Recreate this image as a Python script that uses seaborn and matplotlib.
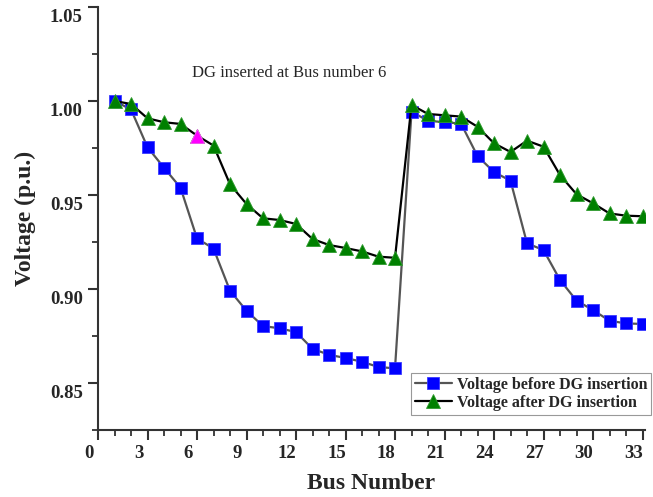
import matplotlib
matplotlib.use("Agg")
import matplotlib.pyplot as plt
import numpy as np
import pandas as pd
import seaborn as sns
from matplotlib.ticker import MultipleLocator
from matplotlib.transforms import ScaledTranslation

# Bus voltage profile of the 33-bus feeder
bus = list(range(1, 34))
v_before = [1.000, 0.9955, 0.9754, 0.9645, 0.9539, 0.9269, 0.9215, 0.8991, 0.8884,
            0.8803, 0.8791, 0.8771, 0.8682, 0.8650, 0.8633, 0.8613, 0.8585, 0.8578,
            0.9943, 0.9895, 0.9887, 0.9880, 0.9707, 0.9622, 0.9576, 0.9243, 0.9207,
            0.9048, 0.8938, 0.8888, 0.8831, 0.8817, 0.8814]
v_after = [1.000, 0.9984, 0.9908, 0.9887, 0.9878, 0.9816, 0.9763, 0.9557, 0.9452,
           0.9376, 0.9367, 0.9346, 0.9266, 0.9234, 0.9218, 0.9200, 0.9172, 0.9166,
           0.9979, 0.9931, 0.9924, 0.9917, 0.9863, 0.9775, 0.9729, 0.9789, 0.9757,
           0.9606, 0.9504, 0.9456, 0.9402, 0.9390, 0.9387]
dg_bus = 6
x_ticks = list(range(0, 34, 3))
y_ticks = [0.85, 0.90, 0.95, 1.00, 1.05]

sns.set_style("ticks")
plt.rcParams["font.family"] = ["Liberation Serif", "DejaVu Serif"]

df = pd.DataFrame({"Bus": bus, "before": v_before, "after": v_after})

fig = plt.figure(figsize=(6.53, 4.97), dpi=100)
ax = fig.add_axes([98 / 653, 1 - 430 / 497, (645 - 98) / 653, (430 - 7) / 497])

sns.lineplot(data=df, x="Bus", y="before", ax=ax, color="#555555", lw=1.6,
             marker="s", markersize=8.5, markerfacecolor="#0000ff",
             markeredgecolor="#3a3aff", markeredgewidth=0.6,
             label="Voltage before DG insertion")
sns.lineplot(data=df, x="Bus", y="after", ax=ax, color="black", lw=1.6,
             marker="^", markersize=10, markerfacecolor="#008000",
             markeredgecolor="#2e9a2e", markeredgewidth=0.6,
             label="Voltage after DG insertion")

# highlight the bus where the DG unit is connected
dg = df[df["Bus"] == dg_bus]
sns.scatterplot(data=dg, x="Bus", y="after", ax=ax, marker="^", s=100,
                color="#ff00ff", edgecolor="#ff55ff", linewidth=0.6,
                zorder=5, legend=False)

ax.text(5.7, 1.0149, "DG inserted at Bus number 6", fontsize=12,
        ha="left", va="center")

ax.set_xlim(0, 33.15)
ax.set_ylim(0.825, 1.05)
ax.set_xticks(x_ticks)
ax.set_yticks(y_ticks)
ax.set_xticklabels([str(t) for t in x_ticks])
ax.set_yticklabels([f"{t:.2f}" for t in y_ticks])
ax.xaxis.set_minor_locator(MultipleLocator(1))
ax.yaxis.set_minor_locator(MultipleLocator(0.025))

sns.despine(ax=ax)
for side in ("left", "bottom"):
    ax.spines[side].set_linewidth(1.5)
    ax.spines[side].set_color("#333333")
ax.tick_params(which="major", direction="out", length=7, width=1.5,
               color="#333333", labelsize=13.5, pad=4)
ax.tick_params(which="minor", direction="out", length=4, width=1.3,
               color="#333333")
for lab in ax.get_xticklabels() + ax.get_yticklabels():
    lab.set_fontweight("bold")

# tick labels sit slightly off their tick marks
for lab in ax.get_yticklabels():
    lab.set_transform(lab.get_transform() +
                      ScaledTranslation(0, -9 / 100, fig.dpi_scale_trans))
for lab in ax.get_xticklabels():
    lab.set_transform(lab.get_transform() +
                      ScaledTranslation(-9 / 100, 0, fig.dpi_scale_trans))

ax.set_xlabel("Bus Number", fontsize=17, fontweight="bold", labelpad=8)
ax.set_ylabel("Voltage (p.u.)", fontsize=17, fontweight="bold", labelpad=10)

handles, labels = ax.get_legend_handles_labels()
leg = ax.legend(handles[:2], labels[:2], loc="lower right",
                bbox_to_anchor=(651 / 653, 1 - 415 / 497),
                bbox_transform=fig.transFigure, borderaxespad=0,
                prop={"weight": "bold", "size": 11.5}, frameon=True,
                fancybox=False, framealpha=1, edgecolor="#999999",
                handlelength=2.3, handletextpad=0.3, borderpad=0.25,
                labelspacing=0.15)
leg.get_frame().set_linewidth(0.8)

fig.savefig("out.png", dpi=100)
